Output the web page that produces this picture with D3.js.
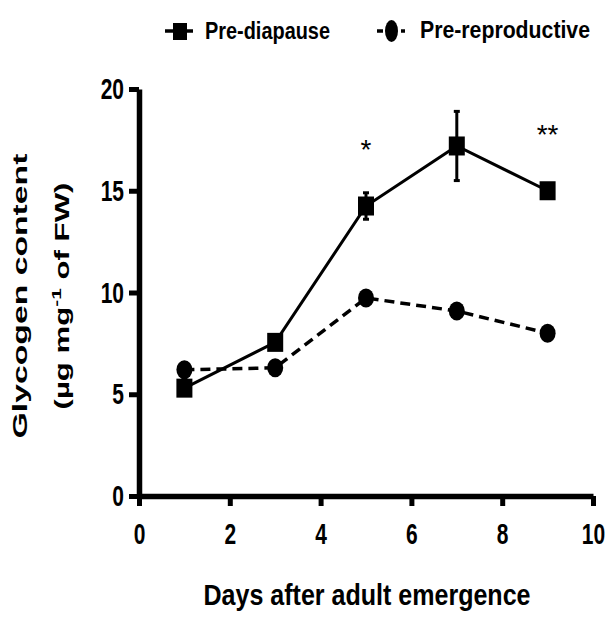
<!DOCTYPE html>
<html>
<head>
<meta charset="utf-8">
<script src="https://cdn.jsdelivr.net/npm/d3@7"></script>
<style>
    html, body { margin: 0; padding: 0; background: #fff; }
    svg { display: block; }
    text { font-family: "Liberation Sans", Arial, sans-serif; font-weight: bold; fill: #000; }
</style>
</head>
<body>
<svg id="chart"></svg>
<script>
// Glycogen content over days after adult emergence
const days = [1, 3, 5, 7, 9];
const preDiapause = [5.3, 7.55, 14.25, 17.2, 15.0];
const preDiapauseSem = [0.2, 0.2, 0.65, 1.7, 0.2];
const preReproductive = [6.2, 6.3, 9.73, 9.09, 8.0];
const xTicks = [0, 2, 4, 6, 8, 10];
const yTicks = [0, 5, 10, 15, 20];
const annotDays = [5, 9];
const annotMarks = ['*', '**'];
const annotLevel = [17.3, 18.0];

(function() {
    const width = 610, height = 621;
    const svg = d3.select('#chart').attr('width', width).attr('height', height);

    const x = d3.scaleLinear().domain([0, 10]).range([139, 593]);
    const y = d3.scaleLinear().domain([0, 20]).range([496, 89]);

    // Axes
    const xAxis = svg.append('g')
        .attr('transform', 'translate(0,' + y(0) + ')')
        .call(d3.axisBottom(x).tickValues(xTicks).tickSize(10).tickSizeOuter(0).tickPadding(17));
    const yAxis = svg.append('g')
        .attr('transform', 'translate(' + x(0) + ',0)')
        .call(d3.axisLeft(y).tickValues(yTicks).tickSize(10).tickSizeOuter(0).tickPadding(5));

    [xAxis, yAxis].forEach(a => {
        a.attr('font-size', 30).attr('font-weight', 'bold');
        a.select('.domain').attr('stroke', '#000').attr('stroke-width', 5.5);
        a.selectAll('.tick line').attr('stroke', '#000').attr('stroke-width', 5);
        a.selectAll('.tick text')
            .style('font-size', '30px')
            .style('font-weight', 'bold')
            .style('fill', '#000');
    });
    xAxis.selectAll('.tick text').attr('transform', 'scale(0.7,1)');
    yAxis.selectAll('.tick text').attr('x', -15 / 0.7).attr('transform', 'scale(0.7,1)');

    // Series: dashed circles first, solid squares on top
    const line = d3.line().x(d => x(d[0])).y(d => y(d[1]));
    const repPts = days.map((d, i) => [d, preReproductive[i]]);
    const diaPts = days.map((d, i) => [d, preDiapause[i]]);

    svg.append('path').datum(repPts)
        .attr('d', line).attr('fill', 'none')
        .attr('stroke', '#000').attr('stroke-width', 3.5)
        .attr('stroke-dasharray', '10,6');

    svg.append('g').selectAll('ellipse').data(repPts).enter().append('ellipse')
        .attr('cx', d => x(d[0])).attr('cy', d => y(d[1]))
        .attr('rx', 8).attr('ry', 9.5).attr('fill', '#000');

    svg.append('path').datum(diaPts)
        .attr('d', line).attr('fill', 'none')
        .attr('stroke', '#000').attr('stroke-width', 3);

    // Error bars
    const err = svg.append('g').attr('stroke', '#000').attr('stroke-width', 3);
    days.forEach((d, i) => {
        const lo = y(preDiapause[i] - preDiapauseSem[i]);
        const hi = y(preDiapause[i] + preDiapauseSem[i]);
        err.append('line').attr('x1', x(d)).attr('x2', x(d)).attr('y1', lo).attr('y2', hi);
        err.append('line').attr('x1', x(d) - 3).attr('x2', x(d) + 3).attr('y1', lo).attr('y2', lo);
        err.append('line').attr('x1', x(d) - 3).attr('x2', x(d) + 3).attr('y1', hi).attr('y2', hi);
    });

    svg.append('g').selectAll('rect').data(diaPts).enter().append('rect')
        .attr('x', d => x(d[0]) - 8).attr('y', d => y(d[1]) - 9.5)
        .attr('width', 16).attr('height', 19).attr('fill', '#000');

    // Significance marks
    svg.append('g').selectAll('text').data(annotDays).enter().append('text')
        .attr('x', d => x(d))
        .attr('y', (d, i) => y(annotLevel[i]))
        .attr('dy', '0.52em')
        .attr('text-anchor', 'middle')
        .style('font-size', '28px')
        .style('font-weight', 'normal')
        .text((d, i) => annotMarks[i]);

    // Legend
    const leg = svg.append('g');
    leg.append('line').attr('x1', 165).attr('x2', 193).attr('y1', 31).attr('y2', 31)
        .attr('stroke', '#000').attr('stroke-width', 3.5);
    leg.append('rect').attr('x', 173).attr('y', 23).attr('width', 14).attr('height', 17).attr('fill', '#000');
    leg.append('text').attr('x', 205).attr('y', 39)
        .attr('textLength', 125).attr('lengthAdjust', 'spacingAndGlyphs')
        .style('font-size', '23px').text('Pre-diapause');

    leg.append('line').attr('x1', 377).attr('x2', 407).attr('y1', 31).attr('y2', 31)
        .attr('stroke', '#000').attr('stroke-width', 3.5).attr('stroke-dasharray', '6,18,4');
    leg.append('ellipse').attr('cx', 391.5).attr('cy', 31).attr('rx', 6.5).attr('ry', 11).attr('fill', '#000');
    leg.append('text').attr('x', 420).attr('y', 38)
        .attr('textLength', 170).attr('lengthAdjust', 'spacingAndGlyphs')
        .style('font-size', '23px').text('Pre-reproductive');

    // Axis titles
    svg.append('text').attr('x', 367).attr('y', 605)
        .attr('text-anchor', 'middle')
        .attr('textLength', 327).attr('lengthAdjust', 'spacingAndGlyphs')
        .style('font-size', '30px').text('Days after adult emergence');

    svg.append('g').attr('transform', 'translate(27,296) rotate(-90) scale(1.73,1)')
        .append('text').attr('text-anchor', 'middle')
        .style('font-size', '19.5px').text('Glycogen content');

    const t2 = svg.append('g').attr('transform', 'translate(69,296) rotate(-90) scale(1.6,1)')
        .append('text').attr('text-anchor', 'middle').style('font-size', '19.5px');
    t2.append('tspan').text('(\u00b5g mg');
    t2.append('tspan').attr('dy', -8).style('font-size', '13px').text('-1');
    t2.append('tspan').attr('dy', 8).text(' of FW)');
})();
</script>
</body>
</html>
